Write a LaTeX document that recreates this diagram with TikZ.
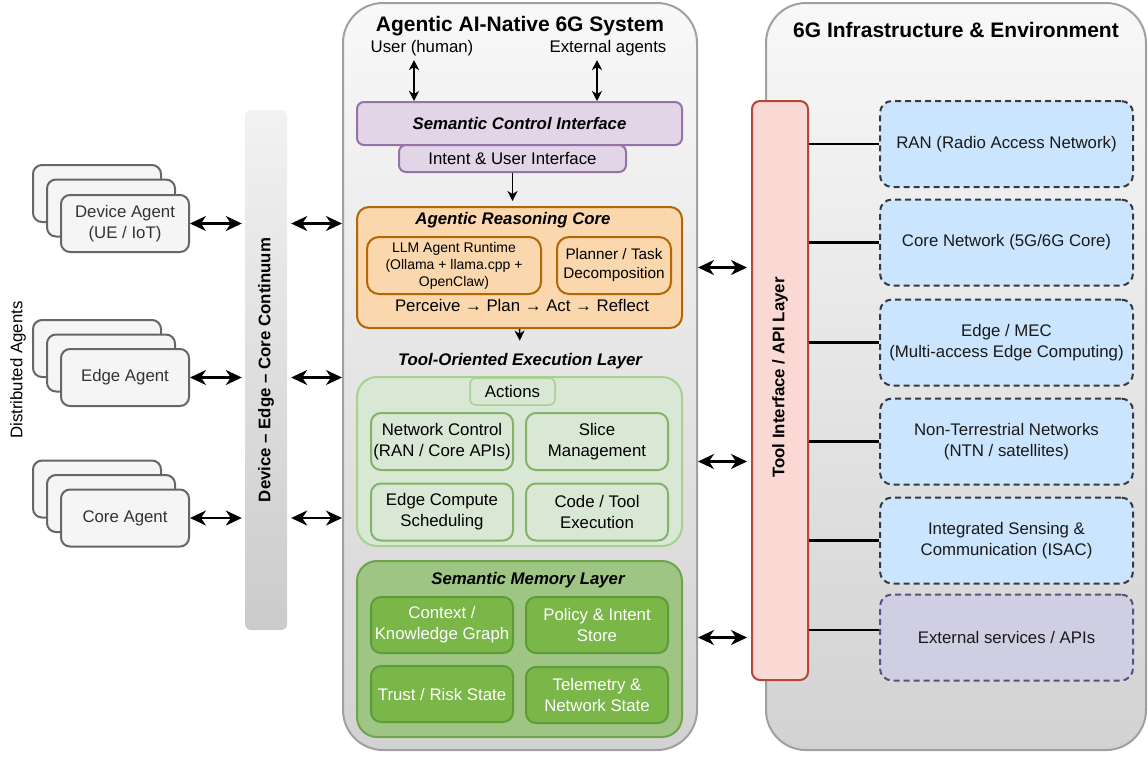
\documentclass[tikz,border=0pt]{standalone}
\usepackage{fontspec}
\setmainfont{Liberation Sans}
\usetikzlibrary{arrows.meta, positioning}

\definecolor{cardfill}{HTML}{F5F5F5}
\definecolor{cardline}{HTML}{666666}
\definecolor{cardtext}{HTML}{333333}
\definecolor{paneltop}{HTML}{F8F8F8}
\definecolor{panelbottom}{HTML}{D2D2D2}
\definecolor{panelline}{HTML}{A0A0A0}
\definecolor{conttop}{HTML}{F2F2F2}
\definecolor{contbottom}{HTML}{CBCBCB}
\definecolor{purplefill}{HTML}{E1D5E7}
\definecolor{purpleline}{HTML}{9673A6}
\definecolor{orangefill}{HTML}{FAD7AC}
\definecolor{orangeline}{HTML}{B46504}
\definecolor{execfill}{HTML}{D9E7D5}
\definecolor{execpanelline}{HTML}{A8D08F}
\definecolor{execline}{HTML}{82B366}
\definecolor{memfill}{HTML}{9EC583}
\definecolor{memline}{HTML}{6DA44A}
\definecolor{memboxfill}{HTML}{7AB648}
\definecolor{memboxline}{HTML}{5E9C3A}
\definecolor{toolfill}{HTML}{FAD9D5}
\definecolor{toolline}{HTML}{B5473A}
\definecolor{envfill}{HTML}{CCE5FF}
\definecolor{envline}{HTML}{36393D}
\definecolor{extfill}{HTML}{D0CEE2}
\definecolor{extline}{HTML}{56517E}

\tikzset{
  txt/.style={font=\fontsize{16.8}{21}\selectfont, align=center, inner sep=1pt},
  heading/.style={font=\fontsize{16.8}{21}\selectfont\bfseries\itshape},
  bigtitle/.style={font=\fontsize{21}{25}\selectfont\bfseries},
  agentcard/.style={txt, draw=cardline, fill=cardfill, text=cardtext, line width=2pt, rounded corners=9pt, minimum width=128pt, minimum height=57pt},
  panel/.style={draw=panelline, line width=2pt, rounded corners=40pt, top color=paneltop, bottom color=panelbottom},
  contbar/.style={rounded corners=6pt, top color=conttop, bottom color=contbottom, minimum width=42pt, minimum height=520pt, inner sep=0pt},
  purplebox/.style={txt, draw=purpleline, fill=purplefill, line width=2pt, rounded corners=7pt},
  orangebox/.style={txt, draw=orangeline, fill=orangefill, line width=2pt, rounded corners=12pt},
  execpanel/.style={txt, draw=execpanelline, fill=execfill, line width=2pt, rounded corners=20pt},
  execbox/.style={txt, draw=execline, fill=execfill, line width=2pt, rounded corners=10pt, minimum width=142pt, minimum height=57pt},
  mempanel/.style={draw=memline, fill=memfill, line width=2pt, rounded corners=20pt},
  membox/.style={txt, text=white, draw=memboxline, fill=memboxfill, line width=2pt, rounded corners=10pt, minimum width=142pt, minimum height=56pt},
  toolbar/.style={draw=toolline, fill=toolfill, line width=2pt, rounded corners=8pt},
  envbox/.style={txt, draw=envline, fill=envfill, line width=2pt, dash pattern=on 6pt off 4pt, rounded corners=12pt, minimum width=253pt, minimum height=86pt, text=black!90},
  biarrow/.style={{Stealth[length=16pt,width=15pt,inset=5pt]}-{Stealth[length=16pt,width=15pt,inset=5pt]}, line width=2.2pt},
  thinbiarrow/.style={{Stealth[length=10pt,width=10pt,inset=3pt]}-{Stealth[length=10pt,width=10pt,inset=3pt]}, line width=1.5pt},
  thinarrow/.style={-{Stealth[length=10pt,width=10pt,inset=3pt]}, line width=1.5pt},
  link/.style={line width=2.2pt}
}

\begin{document}
\begin{tikzpicture}[x=1pt,y=1pt,yscale=-1]
\useasboundingbox (0,0) rectangle (1148,756);

% Panels
\node[panel, minimum width=354pt, minimum height=747pt] (system) at (520,376.5) {};
\node[panel, minimum width=380pt, minimum height=747pt] (infra) at (956,376.5) {};
\node[bigtitle] (systitle) at (520,26) {Agentic AI-Native 6G System};
\node[bigtitle] (infratitle) at (956,30) {6G Infrastructure \& Environment};

% Distributed agents
\node[txt, rotate=90] (distlabel) at (18,370) {Distributed Agents};
\foreach \y in {222.5,377.5,518}{
  \node[agentcard] at (97,\y-29) {};
  \node[agentcard] at (111,\y-14.5) {};
}
\node[agentcard] (devagent) at (125,223.5) {Device Agent\\(UE / IoT)};
\node[agentcard] (edgeagent) at (125,377.5) {Edge Agent};
\node[agentcard] (coreagent) at (125,518) {Core Agent};

% Continuum
\node[contbar] (continuum) at (266,370) {\rotatebox{90}{\fontsize{16.8}{21}\selectfont\bfseries Device – Edge – Core Continuum}};

% Semantic control
\node[txt] (user) at (422,48) {User (human)};
\node[txt] (extagents) at (608,48) {External agents};
\node[purplebox, minimum width=325pt, minimum height=43pt] (sci) at (519.5,123.5) {\textbf{\textit{Semantic Control Interface}}};
\node[purplebox, minimum width=227pt, minimum height=27pt] (intent) at (512.5,158.5) {Intent \& User Interface};

% Reasoning core
\node[orangebox, minimum width=325pt, minimum height=121pt] (reason) at (519.5,267.5) {};
\node[heading] (reasontitle) at (513,220) {Agentic Reasoning Core};
\node[orangebox, font=\fontsize{14}{17}\selectfont, minimum width=174pt, minimum height=57pt] (llm) at (454,265.5) {LLM Agent Runtime\\(Ollama + llama.cpp +\\OpenClaw)};
\node[orangebox, font=\fontsize{15.3}{19}\selectfont, minimum width=114pt, minimum height=57pt] (planner) at (614,265.5) {Planner / Task\\Decomposition};
\node[txt] (loop) at (522,305) {Perceive → Plan → Act → Reflect};

% Execution layer
\node[heading] (exectitle) at (520,361) {Tool-Oriented Execution Layer};
\node[execpanel, minimum width=325pt, minimum height=169pt] (exec) at (519.5,461.5) {};
\node[execpanel, rounded corners=6pt, line width=1.5pt, minimum width=85pt, minimum height=27pt] (actions) at (512.5,391.5) {Actions};
\node[execbox] (netctrl) at (442,441.5) {Network Control\\(RAN / Core APIs)};
\node[execbox] (slice) at (597,441.5) {Slice\\Management};
\node[execbox] (edgesched) at (442,512) {Edge Compute\\Scheduling};
\node[execbox] (codetool) at (597,512) {Code / Tool\\Execution};

% Memory layer
\node[mempanel, minimum width=325pt, minimum height=176pt] (memory) at (519.5,649) {};
\node[heading] (memtitle) at (528,580) {Semantic Memory Layer};
\node[membox] (context) at (442,625) {Context /\\Knowledge Graph};
\node[membox] (policy) at (597,625) {Policy \& Intent\\Store};
\node[membox] (trust) at (442,694) {Trust / Risk State};
\node[membox] (telemetry) at (597,695) {Telemetry \&\\Network State};

% Tool interface
\node[toolbar, minimum width=56pt, minimum height=579pt] (toolapi) at (780,390.5) {};
\node[txt, font=\fontsize{16.8}{21}\selectfont\bfseries, rotate=90] (toollabel) at (780,377.5) {Tool Interface / API Layer};

% Infrastructure
\node[envbox] (ran) at (1006.5,144) {RAN (Radio Access Network)};
\node[envbox] (corenet) at (1006.5,242.5) {Core Network (5G/6G Core)};
\node[envbox] (mec) at (1006.5,342.5) {Edge / MEC\\(Multi-access Edge Computing)};
\node[envbox] (ntn) at (1006.5,441.5) {Non-Terrestrial Networks\\(NTN / satellites)};
\node[envbox] (isac) at (1006.5,540.5) {Integrated Sensing \&\\Communication (ISAC)};
\node[envbox, fill=extfill, draw=extline] (extapi) at (1006.5,637.5) {External services / APIs};

% Connectors
\foreach \a in {devagent,edgeagent,coreagent}{
  \draw[biarrow, shorten >=3pt] (\a.east) -- (continuum.west |- \a.east);
  \draw[biarrow, shorten <=4pt] (continuum.east |- \a.east) -- (system.west |- \a.east);
}
\draw[thinbiarrow, shorten <=3pt] ([xshift=-8pt]user.south) -- ([xshift=-8pt]user.south |- sci.north);
\draw[thinbiarrow, shorten <=3pt] ([xshift=-11pt]extagents.south) -- ([xshift=-11pt]extagents.south |- sci.north);
\draw[thinarrow, shorten >=5pt] (intent.south) -- (intent.south |- reason.north);
\draw[thinarrow, shorten >=9pt] (reason.south) -- (exectitle.north);
\foreach \b in {reason,exec,extapi}
  \draw[biarrow, shorten >=4pt] (system.east |- \b.east) -- (toolapi.west |- \b.east);
\foreach \b in {ran,corenet,mec,ntn,isac}
  \draw[link] (toolapi.east |- \b.west) -- (\b.west);
\draw[link] (toolapi.east |- 0,630) -- (extapi.west |- 0,630);

\end{tikzpicture}
\end{document}
